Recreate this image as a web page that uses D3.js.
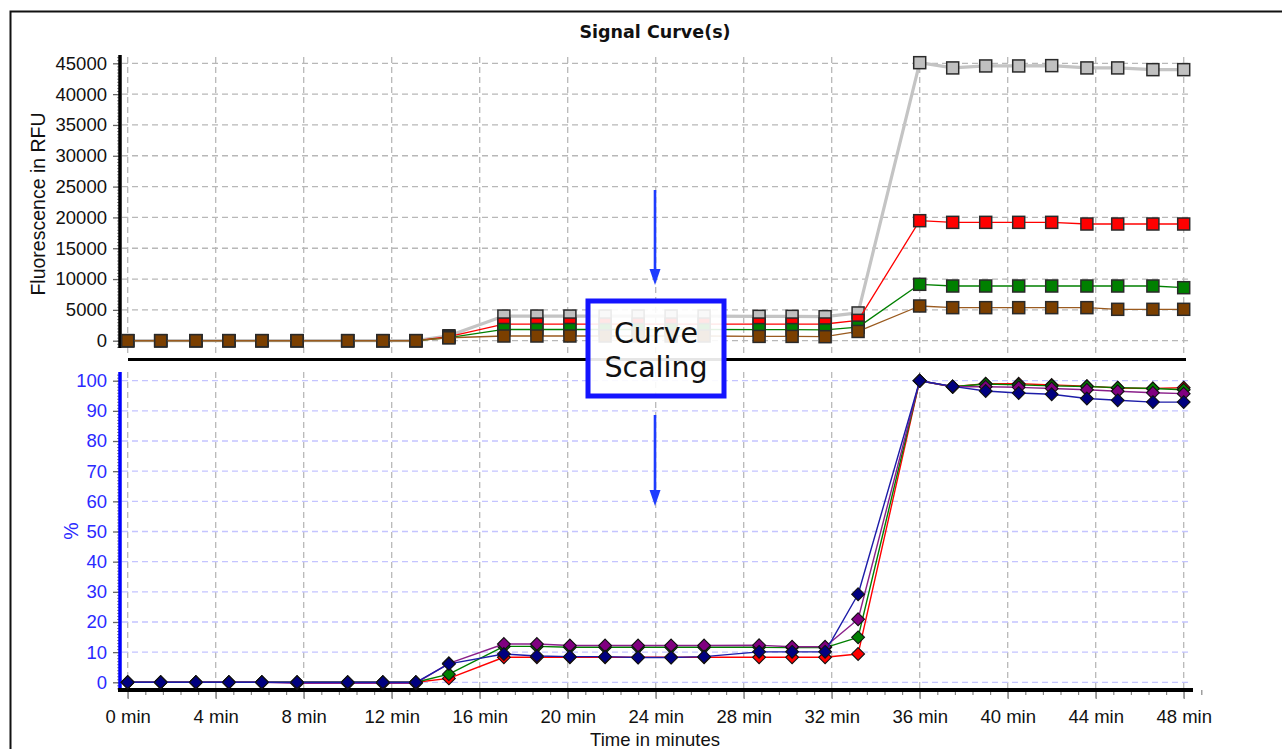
<!DOCTYPE html>
<html>
<head>
<meta charset="utf-8">
<script src="https://cdn.jsdelivr.net/npm/d3@7"></script>
<style>
  html, body { margin: 0; padding: 0; background: #ffffff; }
  svg { display: block; }
</style>
</head>
<body>
<script>
// ---------------- DATA ----------------
const times = [0, 1.5, 3.1, 4.6, 6.1, 7.7, 10, 11.6, 13.1, 14.6, 17.1, 18.6, 20.1, 21.7, 23.2, 24.7, 26.2, 28.7, 30.2, 31.7, 33.2, 36, 37.5, 39, 40.5, 42, 43.6, 45, 46.6, 48];

// Top panel: fluorescence in RFU
const rfuGray  = [0, 0, 0, 0, 0, 0, 0, 0, 0, 800, 4000, 4000, 4000, 4000, 4000, 4000, 4000, 3950, 3950, 3900, 4500, 45100, 44250, 44570, 44570, 44620, 44250, 44250, 43970, 43970];
const rfuRed   = [0, 0, 0, 0, 0, 0, 0, 0, 0, 650, 2700, 2700, 2700, 2700, 2700, 2700, 2700, 2700, 2700, 2710, 3300, 19470, 19200, 19200, 19200, 19200, 18930, 18930, 18930, 18930];
const rfuGreen = [0, 0, 0, 0, 0, 0, 0, 0, 0, 500, 1820, 1820, 1820, 1820, 1820, 1820, 1820, 1800, 1800, 1750, 2200, 9150, 8870, 8870, 8870, 8870, 8870, 8870, 8870, 8600];
const rfuBrown = [0, 0, 0, 0, 0, 0, 0, 0, 0, 480, 760, 760, 760, 760, 760, 760, 760, 700, 700, 650, 1500, 5630, 5360, 5360, 5360, 5360, 5360, 5090, 5090, 5090];

// Bottom panel: scaled curves in %
const pctRed    = [0, 0, 0, 0, 0, 0, 0, 0, 0, 1.3, 8.3, 8.3, 8.3, 8.3, 8.3, 8.3, 8.3, 8.3, 8.3, 8.3, 9.4, 100, 98.0, 99.0, 99.0, 98.6, 98.2, 97.6, 97.4, 97.7];
const pctGreen  = [0, 0, 0, 0, 0, 0, 0, 0, 0, 2.7, 11.9, 11.9, 11.6, 11.6, 11.6, 11.6, 11.6, 11.6, 11.5, 11.5, 14.9, 100, 98.0, 98.9, 98.6, 98.3, 98.1, 97.7, 97.4, 97.0];
const pctPurple = [0, 0, 0, 0, 0, -0.3, -0.3, -0.3, -0.3, 6.3, 12.7, 12.7, 12.2, 12.2, 12.2, 12.2, 12.2, 12.3, 11.8, 11.8, 20.9, 100, 98.0, 98.0, 97.8, 97.4, 97.0, 96.5, 96.0, 95.7];
const pctNavy   = [0, 0, 0, 0, 0, 0, 0, 0, 0, 6.1, 9.4, 8.7, 8.5, 8.5, 8.2, 8.2, 8.5, 10.1, 10.1, 10.1, 29.2, 100, 98.1, 96.6, 95.9, 95.5, 94.1, 93.5, 92.9, 92.9];

// Tick labels
const xTickValues = [0, 4, 8, 12, 16, 20, 24, 28, 32, 36, 40, 44, 48];
const rfuTickValues = [0, 5000, 10000, 15000, 20000, 25000, 30000, 35000, 40000, 45000];
const pctTickValues = [0, 10, 20, 30, 40, 50, 60, 70, 80, 90, 100];

const titleText = "Signal Curve(s)";
const xAxisTitle = "Time in minutes";
const topYTitle = "Fluorescence in RFU";
const botYTitle = "%";
const calloutLines = ["Curve", "Scaling"];

// ---------------- LAYOUT ----------------
const W = 1282, H = 749;
const svg = d3.select("body").append("svg").attr("width", W).attr("height", H);
const FONT = "'Liberation Sans', Arial, sans-serif";

const x = d3.scaleLinear().domain([0, 48]).range([127.7, 1183.7]);
const yTop = d3.scaleLinear().domain([0, 45000]).range([340.7, 63.3]);
const yBot = d3.scaleLinear().domain([0, 100]).range([682.3, 380.7]);

const axisX = 120;

// Outer frame (right/bottom edges outside the picture)
svg.append("rect").attr("x", 10.5).attr("y", 11.5).attr("width", 1320).attr("height", 800)
  .attr("fill", "none").attr("stroke", "#111").attr("stroke-width", 2);

// Title
svg.append("text").attr("x", 655).attr("y", 38).attr("text-anchor", "middle")
  .attr("font-family", "'DejaVu Sans', Verdana, sans-serif").attr("font-weight", "bold")
  .attr("font-size", 17.5).attr("fill", "#111").text(titleText);

// ---------------- GRIDS ----------------
const grid = svg.append("g").attr("class", "grid");
grid.selectAll(".vt").data(xTickValues).join("line")
  .attr("x1", d => x(d)).attr("x2", d => x(d)).attr("y1", 57).attr("y2", 354)
  .attr("stroke", "#b8b8b8").attr("stroke-width", 1.3).attr("stroke-dasharray", "6,4");
grid.selectAll(".ht").data(rfuTickValues).join("line")
  .attr("x1", 122).attr("x2", 1190).attr("y1", d => yTop(d)).attr("y2", d => yTop(d))
  .attr("stroke", "#b8b8b8").attr("stroke-width", 1.3).attr("stroke-dasharray", "6,4");
grid.selectAll(".vb").data(xTickValues).join("line")
  .attr("x1", d => x(d)).attr("x2", d => x(d)).attr("y1", 372).attr("y2", 699)
  .attr("stroke", "#b8b8b8").attr("stroke-width", 1.3).attr("stroke-dasharray", "6,4");
grid.selectAll(".hb").data(pctTickValues).join("line")
  .attr("x1", 122).attr("x2", 1192).attr("y1", d => yBot(d)).attr("y2", d => yBot(d))
  .attr("stroke", "#c4c4ff").attr("stroke-width", 1.3).attr("stroke-dasharray", "6,4");

// ---------------- AXES ----------------
const topMinor = d3.range(-1000, 46001, 500);
svg.append("g").attr("transform", `translate(${axisX},0)`)
  .call(d3.axisLeft(yTop).tickValues(topMinor.filter(v => yTop(v) >= 55 && yTop(v) <= 348)).tickSize(3).tickFormat(""))
  .call(g => g.select(".domain").remove())
  .call(g => g.selectAll("line").attr("stroke", "#888"));
svg.append("g").attr("transform", `translate(${axisX},0)`)
  .call(d3.axisLeft(yTop).tickValues(rfuTickValues).tickSize(7).tickPadding(6).tickFormat(d3.format("d")))
  .call(g => g.select(".domain").remove())
  .call(g => g.selectAll("line").attr("stroke", "#666").attr("stroke-width", 1.3))
  .call(g => g.selectAll("text").attr("font-family", FONT).attr("font-size", 18.5).attr("fill", "#111"));
svg.append("line").attr("x1", axisX).attr("x2", axisX).attr("y1", 55).attr("y2", 348)
  .attr("stroke", "#000").attr("stroke-width", 3.5);
svg.append("line").attr("x1", 128).attr("x2", 1186).attr("y1", 359.5).attr("y2", 359.5)
  .attr("stroke", "#000").attr("stroke-width", 3);

const botMinor = d3.range(-3, 104, 1);
svg.append("g").attr("transform", `translate(${axisX},0)`)
  .call(d3.axisLeft(yBot).tickValues(botMinor.filter(v => yBot(v) >= 373 && yBot(v) <= 690)).tickSize(3).tickFormat(""))
  .call(g => g.select(".domain").remove())
  .call(g => g.selectAll("line").attr("stroke", "#888"));
svg.append("g").attr("transform", `translate(${axisX},0)`)
  .call(d3.axisLeft(yBot).tickValues(pctTickValues).tickSize(7).tickPadding(6))
  .call(g => g.select(".domain").remove())
  .call(g => g.selectAll("line").attr("stroke", "#666").attr("stroke-width", 1.3))
  .call(g => g.selectAll("text").attr("font-family", FONT).attr("font-size", 18.5).attr("fill", "#2a2aff"));
svg.append("line").attr("x1", axisX).attr("x2", axisX).attr("y1", 372).attr("y2", 692)
  .attr("stroke", "#0000ff").attr("stroke-width", 3.5);

const xMinor = d3.range(0, 49, 0.8).filter(v => xTickValues.indexOf(Math.round(v * 10) / 10) < 0);
svg.append("g").attr("transform", "translate(0,690)")
  .call(d3.axisBottom(x).tickValues(xMinor).tickSize(5).tickFormat(""))
  .call(g => g.select(".domain").remove())
  .call(g => g.selectAll("line").attr("stroke", "#888").attr("stroke-width", 1.2));
svg.append("g").attr("transform", "translate(0,690)")
  .call(d3.axisBottom(x).tickValues(xTickValues).tickSize(9).tickFormat(d => d + " min"))
  .call(g => g.select(".domain").remove())
  .call(g => g.selectAll("line").attr("stroke", "#888").attr("stroke-width", 1.3))
  .call(g => g.selectAll("text").attr("y", 33).attr("dy", 0)
    .attr("font-family", FONT).attr("font-size", 18.5).attr("fill", "#111"));
svg.append("line").attr("x1", 118).attr("x2", 1193).attr("y1", 690).attr("y2", 690)
  .attr("stroke", "#000").attr("stroke-width", 4);

svg.append("text").attr("x", 655).attr("y", 746).attr("text-anchor", "middle")
  .attr("font-family", FONT).attr("font-size", 18.5).attr("fill", "#111").text(xAxisTitle);
svg.append("text").attr("transform", "translate(45,204) rotate(-90)").attr("text-anchor", "middle")
  .attr("font-family", FONT).attr("font-size", 19.5).attr("fill", "#111").text(topYTitle);
svg.append("text").attr("transform", "translate(78,531) rotate(-90)").attr("text-anchor", "middle")
  .attr("font-family", FONT).attr("font-size", 19.5).attr("fill", "#2a2aff").text(botYTitle);

// ---------------- SERIES ----------------
function drawSquares(values, lineColor, lineWidth, fill) {
  const pts = times.map((t, i) => [x(t), yTop(values[i])]);
  svg.append("path").attr("d", d3.line()(pts)).attr("fill", "none")
    .attr("stroke", lineColor).attr("stroke-width", lineWidth).attr("stroke-linejoin", "round");
  svg.append("g").selectAll("rect").data(pts).join("rect")
    .attr("x", d => d[0] - 6).attr("y", d => d[1] - 6).attr("width", 12).attr("height", 12)
    .attr("fill", fill).attr("stroke", "#2a2a2a").attr("stroke-width", 1.5);
}
function drawDiamonds(values, lineColor, fill) {
  const pts = times.map((t, i) => [x(t), yBot(values[i])]);
  svg.append("path").attr("d", d3.line()(pts)).attr("fill", "none")
    .attr("stroke", lineColor).attr("stroke-width", 1.4).attr("stroke-linejoin", "round");
  const r = 6.4;
  svg.append("g").selectAll("path").data(pts).join("path")
    .attr("d", d => `M${d[0]},${d[1] - r}L${d[0] + r},${d[1]}L${d[0]},${d[1] + r}L${d[0] - r},${d[1]}Z`)
    .attr("fill", fill).attr("stroke", "#111").attr("stroke-width", 1.1);
}

drawSquares(rfuGray, "#c4c4c4", 3.2, "#c0c0c0");
drawSquares(rfuRed, "#ff0000", 1.3, "#ff0000");
drawSquares(rfuGreen, "#008000", 1.3, "#008000");
drawSquares(rfuBrown, "#9a5a1e", 1.3, "#7b3f00");

drawDiamonds(pctRed, "#ff0000", "#ff0000");
drawDiamonds(pctGreen, "#008000", "#008000");
drawDiamonds(pctPurple, "#8a1f8a", "#800080");
drawDiamonds(pctNavy, "#1c1ca8", "#000080");

// ---------------- CALLOUT ----------------
const blue = "#1e3cff";
function arrow(y1, y2) {
  svg.append("line").attr("x1", 655).attr("x2", 655).attr("y1", y1).attr("y2", y2 - 12)
    .attr("stroke", blue).attr("stroke-width", 2.6);
  svg.append("path").attr("d", `M${655 - 5.5},${y2 - 16}L${655 + 5.5},${y2 - 16}L655,${y2}Z`).attr("fill", blue);
}
arrow(190, 285);
arrow(415, 506);

svg.append("rect").attr("x", 588).attr("y", 301).attr("width", 136).attr("height", 95)
  .attr("fill", "#ffffff").attr("fill-opacity", 0.9).attr("stroke", "#1414ff").attr("stroke-width", 5);
svg.append("text").attr("x", 656).attr("y", 343).attr("text-anchor", "middle")
  .attr("font-family", "'DejaVu Sans', Verdana, sans-serif").attr("font-size", 28.5).attr("fill", "#111")
  .text(calloutLines[0]);
svg.append("text").attr("x", 656).attr("y", 377).attr("text-anchor", "middle")
  .attr("font-family", "'DejaVu Sans', Verdana, sans-serif").attr("font-size", 28.5).attr("fill", "#111")
  .text(calloutLines[1]);
</script>
</body>
</html>
